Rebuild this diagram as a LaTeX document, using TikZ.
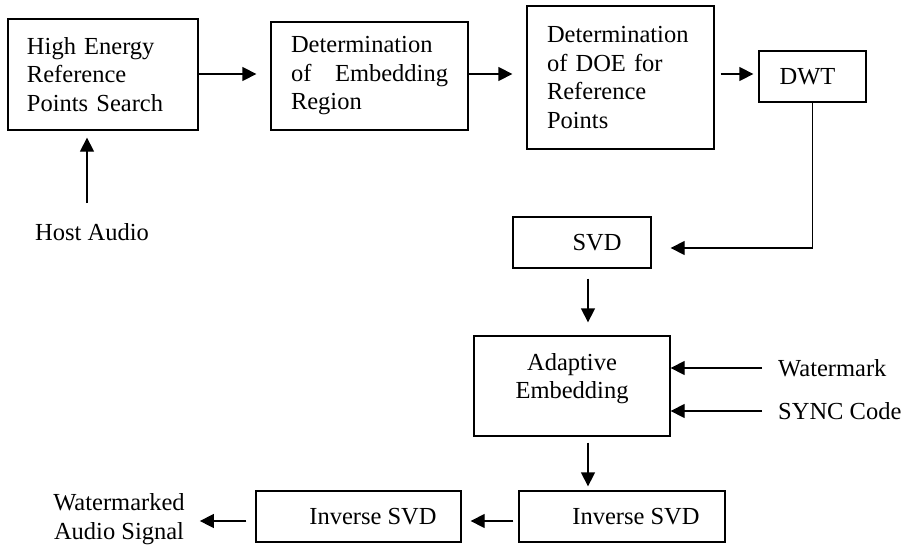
\documentclass[tikz,border=0pt]{standalone}
\usepackage{fontspec}
\setmainfont{Liberation Serif}
\usetikzlibrary{arrows.meta}
\begin{document}
\begin{tikzpicture}[x=1pt,y=-1pt,
  every node/.style={font=\fontsize{24.5}{28.5}\selectfont},
  box/.style={draw, line width=1.3pt, inner sep=0pt, minimum height=51pt},
  arr/.style={line width=1.3pt, -{Triangle[length=14pt,width=14pt]}},
  lbl/.style={inner sep=0pt}]
\useasboundingbox (0,0) rectangle (904,546);

% processing blocks
\node[box, text width=152pt, inner xsep=19pt, minimum height=111pt, align=left]
  (hers) at (103,74.5) {High Energy\\Reference\\Points Search};
\node[box, text width=157pt, inner xsep=20pt, minimum height=108pt, align=left]
  (edr) at (369.5,76) {Determination\\\makebox[157pt][l]{of\hfill Embedding}\\Region};
\node[box, text width=147pt, inner xsep=20pt, minimum height=143pt, align=left]
  (doe) at (620.5,77.5) {Determination\\of DOE for\\Reference\\Points};
\node[box, minimum width=107pt] (dwt) at (812.5,76.5) {DWT\hspace*{10pt}};
\node[box, minimum width=138pt] (svd) at (582,242.5) {\hspace*{30pt}SVD};
\node[box, minimum width=196pt, minimum height=100pt, align=center]
  (ae) at (572,386) {Adaptive\\Embedding\rule[-20pt]{0pt}{0pt}};
\node[box, minimum width=206pt] (invr) at (622,516.5) {\hspace*{28pt}Inverse SVD};
\node[box, minimum width=205pt] (invl) at (358.5,516.5) {\hspace*{29pt}Inverse SVD};

% inputs and output
\node[lbl] (host) at (92,232) {Host Audio};
\node[lbl, anchor=west] (wm) at (778,368) {Watermark};
\node[lbl, anchor=west] (sync) at (778,411) {SYNC Code};
\node[lbl, align=center] (out) at (119,519) {Watermarked\\Audio Signal};

% helper coordinates for connector rows and columns
\coordinate (hostTop) at (87,203);
\coordinate (rowY) at (0,74);
\coordinate (bendY) at (0,248);
\coordinate (colX) at (588,0);
\coordinate (botY) at (0,521);

% connectors
\draw[arr, shorten >=7pt] (hostTop) -- (hostTop |- hers.south);
\draw[arr, shorten >=14pt] (hers.east |- rowY) -- (edr.west |- rowY);
\draw[arr, shorten >=14pt] (edr.east |- rowY) -- (doe.west |- rowY);
\draw[arr, shorten <=6pt, shorten >=5pt] (doe.east |- rowY) -- (dwt.west |- rowY);
\draw[arr, shorten >=19pt] (dwt.south) -- (dwt.south |- bendY) -- (svd.east |- bendY);
\draw[arr, shorten <=10pt, shorten >=13pt] (svd.south -| colX) -- (ae.north -| colX);
\draw[arr, shorten <=16pt] (wm.west) -- (wm.west -| ae.east);
\draw[arr, shorten <=16pt] (sync.west) -- (sync.west -| ae.east);
\draw[arr, shorten <=6pt, shorten >=4pt] (ae.south -| colX) -- (invr.north -| colX);
\draw[arr, shorten <=5pt, shorten >=9pt] (invr.west |- botY) -- (invl.east |- botY);
\draw[arr, shorten <=9pt, shorten >=15pt] (invl.west |- botY) -- (out.east |- botY);
\end{tikzpicture}
\end{document}
